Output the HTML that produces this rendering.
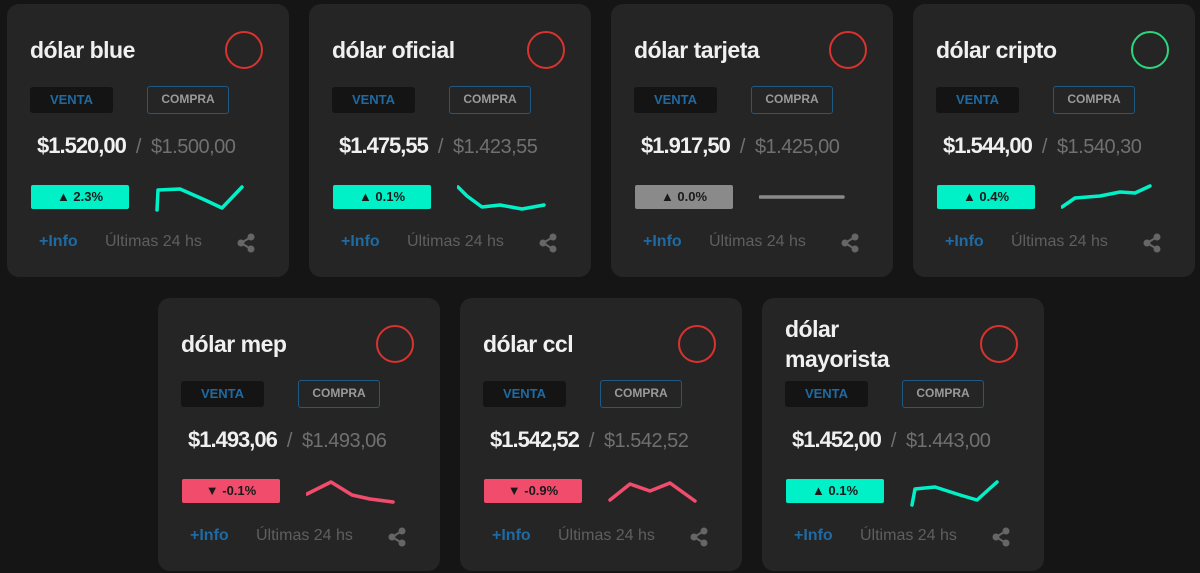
<!DOCTYPE html>
<html><head><meta charset="utf-8"><style>
*{margin:0;padding:0;box-sizing:border-box}
body{width:1200px;height:573px;background:#151515;position:relative;overflow:hidden;font-family:"Liberation Sans",sans-serif}
.c{position:absolute;width:282px;height:273px;background:#252525;border-radius:12px}
.t{position:absolute;left:23px;top:31px;color:#f0f0f0;font-weight:bold;font-size:23px;letter-spacing:-0.5px;line-height:30px}
.ci{position:absolute;left:218px;top:27px;width:38px;height:38px;border:2px solid #d8332f;border-radius:50%}
.v{position:absolute;left:23px;top:83px;width:83px;height:26px;background:#141414;border-radius:3px;color:#1f6aa3;font-weight:bold;font-size:13px;text-align:center;line-height:26px}
.cp{position:absolute;left:140px;top:82px;width:82px;height:28px;border:1.5px solid #1f5a85;border-radius:3px;color:#9a9a9a;font-weight:bold;font-size:12px;text-align:center;line-height:25px}
.p{position:absolute;left:30px;top:129px;font-size:22px;font-weight:bold;color:#f0f0f0;letter-spacing:-1px;white-space:nowrap}
.p span{color:#707070;font-weight:normal;font-size:20px;margin-left:10px;letter-spacing:-0.5px}
.p span b{font-weight:normal;margin-right:10px}
.b{position:absolute;left:24px;top:181px;width:98px;height:24px;border-radius:2px;font-size:13px;font-weight:600;color:#1a1a1a;text-align:center;line-height:24px}
.up{background:#00f0c8}.dn{background:#f24c6d}.fl{background:#8a8a8a}
.s{position:absolute;left:148px;top:178px;width:100px;height:40px}
.s polyline{stroke-width:3.5;stroke-linejoin:round;stroke-linecap:round}
.i{position:absolute;left:32px;top:229px;color:#1f6aa3;font-weight:bold;font-size:16px}
.u{position:absolute;left:98px;top:229px;color:#5f5f5f;font-size:16px}
.sh{position:absolute;left:230px;top:229px}
</style></head><body>

<div class="c" style="left:7px;top:4px">
<div class="t">dólar blue</div><div class="ci"></div>
<div class="v">VENTA</div><div class="cp">COMPRA</div>
<div class="p">$1.520,00<span><b>/</b>$1.500,00</span></div>
<div class="b up">▲ 2.3%</div>
<svg class="s"><polyline points="2,28 3,8 25,7 50,18 67,26 87,5" fill="none" stroke="#00f0c8"/></svg>
<div class="i">+Info</div><div class="u">Últimas 24 hs</div>
<svg class="sh" width="18" height="20"><circle cx="14" cy="4" r="3.5" fill="#666"/><circle cx="4" cy="10" r="3.5" fill="#666"/><circle cx="14" cy="16" r="3.5" fill="#666"/><path d="M4 10L14 4M4 10L14 16" stroke="#666" stroke-width="2"/></svg>
</div>

<div class="c" style="left:309px;top:4px">
<div class="t">dólar oficial</div><div class="ci"></div>
<div class="v">VENTA</div><div class="cp">COMPRA</div>
<div class="p">$1.475,55<span><b>/</b>$1.423,55</span></div>
<div class="b up">▲ 0.1%</div>
<svg class="s"><polyline points="1,5 10,14 25,25 43,23 65,27 87,23" fill="none" stroke="#00f0c8"/></svg>
<div class="i">+Info</div><div class="u">Últimas 24 hs</div>
<svg class="sh" width="18" height="20"><circle cx="14" cy="4" r="3.5" fill="#666"/><circle cx="4" cy="10" r="3.5" fill="#666"/><circle cx="14" cy="16" r="3.5" fill="#666"/><path d="M4 10L14 4M4 10L14 16" stroke="#666" stroke-width="2"/></svg>
</div>

<div class="c" style="left:611px;top:4px">
<div class="t">dólar tarjeta</div><div class="ci"></div>
<div class="v">VENTA</div><div class="cp">COMPRA</div>
<div class="p">$1.917,50<span><b>/</b>$1.425,00</span></div>
<div class="b fl">▲ 0.0%</div>
<svg class="s"><polyline points="1,15 84,15" fill="none" stroke="#8a8a8a"/></svg>
<div class="i">+Info</div><div class="u">Últimas 24 hs</div>
<svg class="sh" width="18" height="20"><circle cx="14" cy="4" r="3.5" fill="#666"/><circle cx="4" cy="10" r="3.5" fill="#666"/><circle cx="14" cy="16" r="3.5" fill="#666"/><path d="M4 10L14 4M4 10L14 16" stroke="#666" stroke-width="2"/></svg>
</div>

<div class="c" style="left:913px;top:4px">
<div class="t">dólar cripto</div><div class="ci" style="border-color:#2ed47a"></div>
<div class="v">VENTA</div><div class="cp">COMPRA</div>
<div class="p">$1.544,00<span><b>/</b>$1.540,30</span></div>
<div class="b up">▲ 0.4%</div>
<svg class="s"><polyline points="1,25 14,16 39,14 59,10 74,11 89,4" fill="none" stroke="#00f0c8"/></svg>
<div class="i">+Info</div><div class="u">Últimas 24 hs</div>
<svg class="sh" width="18" height="20"><circle cx="14" cy="4" r="3.5" fill="#666"/><circle cx="4" cy="10" r="3.5" fill="#666"/><circle cx="14" cy="16" r="3.5" fill="#666"/><path d="M4 10L14 4M4 10L14 16" stroke="#666" stroke-width="2"/></svg>
</div>

<div class="c" style="left:158px;top:298px">
<div class="t">dólar mep</div><div class="ci"></div>
<div class="v">VENTA</div><div class="cp">COMPRA</div>
<div class="p">$1.493,06<span><b>/</b>$1.493,06</span></div>
<div class="b dn">▼ -0.1%</div>
<svg class="s"><polyline points="1,18 25,6 46,19 64,23 87,26" fill="none" stroke="#f24c6d"/></svg>
<div class="i">+Info</div><div class="u">Últimas 24 hs</div>
<svg class="sh" width="18" height="20"><circle cx="14" cy="4" r="3.5" fill="#666"/><circle cx="4" cy="10" r="3.5" fill="#666"/><circle cx="14" cy="16" r="3.5" fill="#666"/><path d="M4 10L14 4M4 10L14 16" stroke="#666" stroke-width="2"/></svg>
</div>

<div class="c" style="left:460px;top:298px">
<div class="t">dólar ccl</div><div class="ci"></div>
<div class="v">VENTA</div><div class="cp">COMPRA</div>
<div class="p">$1.542,52<span><b>/</b>$1.542,52</span></div>
<div class="b dn">▼ -0.9%</div>
<svg class="s"><polyline points="2,24 22,8 42,15 62,7 87,25" fill="none" stroke="#f24c6d"/></svg>
<div class="i">+Info</div><div class="u">Últimas 24 hs</div>
<svg class="sh" width="18" height="20"><circle cx="14" cy="4" r="3.5" fill="#666"/><circle cx="4" cy="10" r="3.5" fill="#666"/><circle cx="14" cy="16" r="3.5" fill="#666"/><path d="M4 10L14 4M4 10L14 16" stroke="#666" stroke-width="2"/></svg>
</div>

<div class="c" style="left:762px;top:298px">
<div class="t" style="top:16px">dólar<br>mayorista</div><div class="ci"></div>
<div class="v">VENTA</div><div class="cp">COMPRA</div>
<div class="p">$1.452,00<span><b>/</b>$1.443,00</span></div>
<div class="b up">▲ 0.1%</div>
<svg class="s"><polyline points="2,29 5,13 25,11 50,19 67,24 87,6" fill="none" stroke="#00f0c8"/></svg>
<div class="i">+Info</div><div class="u">Últimas 24 hs</div>
<svg class="sh" width="18" height="20"><circle cx="14" cy="4" r="3.5" fill="#666"/><circle cx="4" cy="10" r="3.5" fill="#666"/><circle cx="14" cy="16" r="3.5" fill="#666"/><path d="M4 10L14 4M4 10L14 16" stroke="#666" stroke-width="2"/></svg>
</div>

</body></html>
